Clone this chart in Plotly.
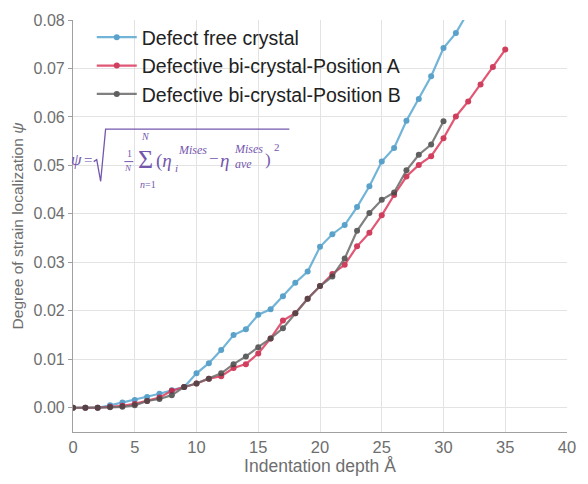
import plotly.graph_objects as go

depth_free = list(range(0, 33))
psi_free = [0, 0, 0, 0.0005, 0.0011, 0.0016, 0.0022, 0.0029, 0.0036, 0.0043,
            0.0071, 0.0092, 0.0119, 0.0150, 0.0162, 0.0192, 0.0203, 0.0230, 0.0258, 0.0281,
            0.0332, 0.0358, 0.0377, 0.0414, 0.0457, 0.0508, 0.0536, 0.0592, 0.0637, 0.0684,
            0.0742, 0.0773, 0.0817]
depth_a = list(range(0, 36))
psi_a = [0, 0, 0, 0.0002, 0.0004, 0.0008, 0.0014, 0.0021, 0.0035, 0.0043,
         0.0050, 0.0060, 0.0065, 0.0082, 0.0090, 0.0112, 0.0143, 0.0180, 0.0195, 0.0225,
         0.0251, 0.0276, 0.0295, 0.0333, 0.0361, 0.0397, 0.0439, 0.0477, 0.0501, 0.0519,
         0.0556, 0.0601, 0.0632, 0.0667, 0.0703, 0.0739]
depth_b = list(range(0, 31))
psi_b = [0, 0, 0, 0.0001, 0.0002, 0.0005, 0.0014, 0.0018, 0.0026, 0.0043,
         0.0050, 0.0060, 0.0071, 0.0090, 0.0106, 0.0125, 0.0143, 0.0164, 0.0195, 0.0225,
         0.0251, 0.0271, 0.0308, 0.0365, 0.0402, 0.0429, 0.0444, 0.0490, 0.0522, 0.0543,
         0.0591]

names = ["Defect free crystal", "Defective bi-crystal-Position A", "Defective bi-crystal-Position B"]
line_colors = ["#5aa8d2", "#dc3a5c", "#6a6a6a"]
marker_colors = ["#3f92c2", "#c81f42", "#454545"]

W, H = 588, 484
L, R, T, B = 73, 15, 13, 52
PW, PH = W - L - R, H - T - B

def px(x):
    return (x - L) / PW

def py(y):
    return (H - B - y) / PH

fig = go.Figure()
for xs, ys, nm, lc, mc in zip([depth_free, depth_a, depth_b], [psi_free, psi_a, psi_b],
                              names, line_colors, marker_colors):
    fig.add_trace(go.Scatter(
        x=xs, y=ys, name=nm, mode="lines+markers", legendgroup=nm,
        line=dict(color=lc, width=2.2),
        marker=dict(color=mc, size=6),
        opacity=0.85,
    ))

font_fam = "Liberation Sans, Arial, sans-serif"
axis_common = dict(
    showgrid=True, gridcolor="#e3e3e3", gridwidth=1,
    showline=True, linecolor="#a0a0a0", linewidth=1.2,
    zeroline=False, mirror=False,
)
fig.update_xaxes(range=[0, 40], dtick=5, ticks="", **axis_common,
                 tickfont=dict(family=font_fam, size=16.5, color="#6e6e6e"),
                 title=dict(text="Indentation depth Å", font=dict(family=font_fam, size=17.5, color="#6e6e6e"),
                            standoff=1))
fig.update_yaxes(range=[-0.005, 0.08], dtick=0.01, tickformat=".2f", ticks="outside", ticklen=4,
                 tickcolor="#a0a0a0", **axis_common,
                 tickfont=dict(family=font_fam, size=16, color="#6e6e6e"),
                 title=dict(text="Degree of strain localization <i>ψ</i>",
                            font=dict(family=font_fam, size=15.5, color="#6e6e6e"), standoff=6))

fig.update_layout(
    width=W, height=H,
    margin=dict(l=L, r=R, t=T, b=B),
    plot_bgcolor="white", paper_bgcolor="white",
    legend=dict(x=px(92), y=py(11), xanchor="left", yanchor="top",
                font=dict(family=font_fam, size=19.5, color="#222222"),
                bgcolor="rgba(255,255,255,0)", tracegroupgap=0, itemwidth=40),
    showlegend=True,
)

# formula annotation pieces
purple = "#7457ad"
serif = "Liberation Serif, DejaVu Serif, serif"
pieces = [
    ("<i>ψ</i>", 77, 155, 17),
    ("=", 88, 155, 15),
    ("1", 130, 149, 10),
    ("<i>N</i>", 129, 164, 9),
    ("Σ", 146, 155, 26),
    ("<i>N</i>", 146, 131, 10),
    ("<i>n</i>=1", 149, 180, 10),
    ("(<i>η</i>", 165, 156, 19),
    ("<i>i</i>", 178, 164, 11),
    ("<i>Mises</i>", 194, 145, 12),
    ("−", 216, 154, 17),
    ("<i>η</i>", 226, 156, 19),
    ("<i>Mises</i>", 251, 144, 12),
    ("<i>ave</i>", 246, 159, 12),
    (")", 270, 155, 17),
    ("2", 279, 142, 11),
]
for txt, x, y, s in pieces:
    fig.add_annotation(text=txt, xref="paper", yref="paper", x=px(x), y=py(y),
                       xanchor="center", yanchor="middle", showarrow=False,
                       font=dict(family=serif, size=s, color=purple))

# radical sign and fraction bar
path = "M {} {} L {} {} L {} {} L {} {} L {} {}".format(
    px(94), py(157), px(97), py(155), px(101), py(177), px(106), py(124), px(292), py(124))
fig.add_shape(type="path", path=path, xref="paper", yref="paper",
              line=dict(color=purple, width=1.3))
fig.add_shape(type="line", xref="paper", yref="paper", x0=px(125), x1=px(134), y0=py(157), y1=py(157),
              line=dict(color=purple, width=1))

fig.write_html("out.html")
